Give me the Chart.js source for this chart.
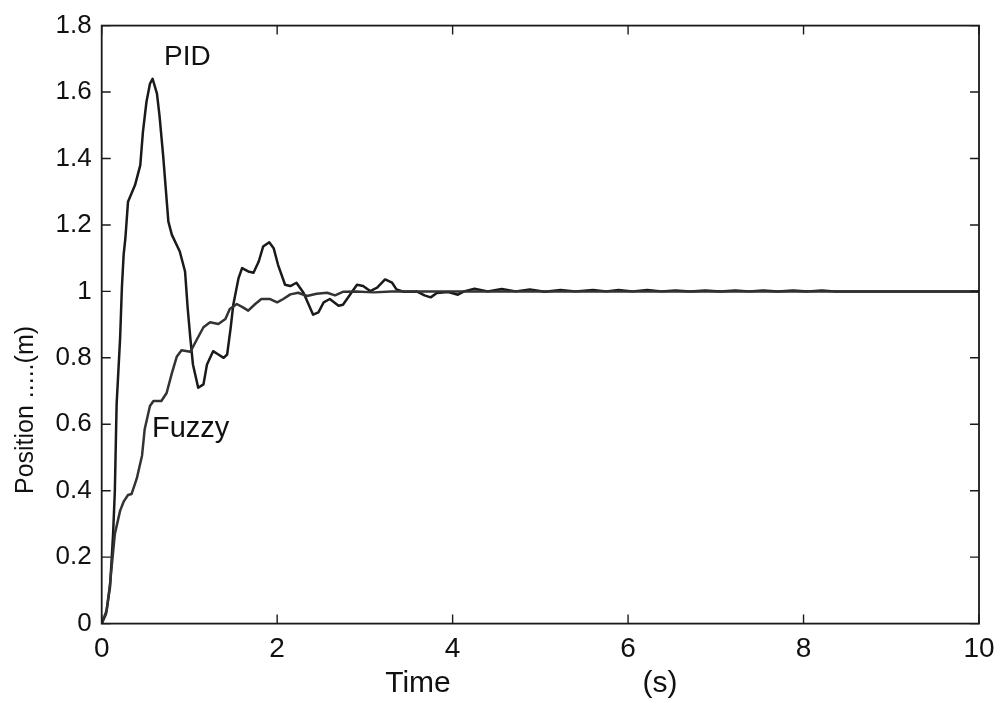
<!DOCTYPE html>
<html>
<head>
<meta charset="utf-8">
<script src="https://cdn.jsdelivr.net/npm/chart.js@4/dist/chart.umd.min.js"></script>
<style>
html,body{margin:0;padding:0;background:#fff;}
#c{display:block;}
</style>
</head>
<body>
<canvas id="c" width="1005" height="701"></canvas>
<script>
// ---- data ----
const pidT = [0,0.05,0.095,0.13,0.15,0.17,0.21,0.23,0.25,0.27,0.30,0.38,0.44,0.47,0.51,0.55,0.58,0.63,0.66,0.70,0.76,0.80,0.89,0.95,0.98,1.01,1.04,1.10,1.16,1.20,1.27,1.33,1.39,1.43,1.47,1.50,1.56,1.60,1.67,1.73,1.79,1.84,1.91,1.96,2.01,2.09,2.15,2.22,2.30,2.36,2.41,2.47,2.53,2.60,2.70,2.75,2.83,2.91,2.98,3.06,3.14,3.23,3.31,3.36,3.44,3.59,3.68,3.75,3.82,3.95,4.06,4.13,4.25,4.40,4.56,4.72,4.88,5.05,5.23,5.40,5.60,5.75,5.89,6.05,6.22,6.38,6.54,6.71,6.88,7.05,7.22,7.38,7.54,7.71,7.88,8.05,8.21,8.35,10];
const pidY = [0,0.03,0.11,0.27,0.40,0.66,0.86,1.01,1.11,1.16,1.27,1.32,1.38,1.48,1.57,1.625,1.64,1.595,1.526,1.41,1.21,1.17,1.12,1.06,0.95,0.86,0.78,0.71,0.72,0.78,0.82,0.81,0.80,0.81,0.89,0.96,1.04,1.07,1.06,1.056,1.09,1.135,1.148,1.13,1.08,1.02,1.016,1.026,0.996,0.96,0.93,0.937,0.967,0.977,0.957,0.96,0.99,1.02,1.016,1.001,1.011,1.036,1.026,1.006,0.999,1.0,0.988,0.982,0.995,0.998,0.99,1.0,1.008,1.0,1.007,1.0,1.006,0.999,1.004,1.0,1.004,1.0,1.004,1.0,1.004,1.0,1.003,1.0,1.003,1.0,1.003,1.0,1.003,1.0,1.003,1.0,1.003,1.0,1.0];
const fuzzyT = [0,0.057,0.095,0.15,0.21,0.25,0.30,0.34,0.40,0.46,0.49,0.55,0.59,0.68,0.74,0.80,0.855,0.91,1.01,1.08,1.16,1.235,1.33,1.41,1.46,1.54,1.61,1.67,1.75,1.82,1.92,2.0,2.07,2.15,2.24,2.34,2.45,2.57,2.66,2.755,2.9,3.1,3.3,10];
const fuzzyY = [0,0.04,0.12,0.27,0.34,0.367,0.387,0.39,0.437,0.506,0.585,0.655,0.67,0.67,0.694,0.754,0.803,0.823,0.818,0.853,0.892,0.907,0.902,0.917,0.947,0.962,0.952,0.942,0.962,0.977,0.977,0.967,0.977,0.991,0.996,0.986,0.993,0.996,0.988,0.999,1.0,0.997,1.0,1.0];
const xTickValues = [0,2,4,6,8,10];
const xTickLabels = ['0','2','4','6','8','10'];
const yTickValues = [0,0.2,0.4,0.6,0.8,1,1.2,1.4,1.6,1.8];
const yTickLabels = ['0','0.2','0.4','0.6','0.8','1','1.2','1.4','1.6','1.8'];
const seriesNames = ['PID','Fuzzy'];
const xTitleParts = ['Time','(s)'];
const yTitle = 'Position .....(m)';

const INK = '#111';

const framePlugin = {
  id: 'frame',
  afterDraw(chart) {
    const ctx = chart.ctx, ca = chart.chartArea;
    const xs = chart.scales.x, ys = chart.scales.y;
    ctx.save();
    ctx.strokeStyle = '#1a1a1a';
    ctx.lineWidth = 1.8;
    ctx.strokeRect(ca.left, ca.top, ca.right - ca.left, ca.bottom - ca.top);
    const tl = 9;
    ctx.lineWidth = 1.4;
    ctx.beginPath();
    xTickValues.forEach(v => {
      const px = xs.getPixelForValue(v);
      ctx.moveTo(px, ca.bottom); ctx.lineTo(px, ca.bottom - tl);
      ctx.moveTo(px, ca.top); ctx.lineTo(px, ca.top + tl);
    });
    yTickValues.forEach(v => {
      const py = ys.getPixelForValue(v);
      ctx.moveTo(ca.left, py); ctx.lineTo(ca.left + tl, py);
      ctx.moveTo(ca.right, py); ctx.lineTo(ca.right - tl, py);
    });
    ctx.stroke();

    ctx.fillStyle = INK;
    ctx.textBaseline = 'alphabetic';
    ctx.textAlign = 'left';
    ctx.font = '28px "Liberation Sans", Arial, sans-serif';
    ctx.fillText(seriesNames[0], 164, 65);
    ctx.font = '29px "Liberation Sans", Arial, sans-serif';
    ctx.fillText(seriesNames[1], 152, 437);

    ctx.font = '30px "Liberation Sans", Arial, sans-serif';
    ctx.textAlign = 'center';
    ctx.fillText(xTitleParts[0], 418, 692);
    ctx.fillText(xTitleParts[1], 660, 692);

    ctx.translate(33, 410);
    ctx.rotate(-Math.PI / 2);
    ctx.font = '25px "Liberation Sans", Arial, sans-serif';
    ctx.fillText(yTitle, 0, 0);
    ctx.restore();
  }
};

new Chart(document.getElementById('c'), {
  type: 'line',
  data: {
    datasets: [
      {
        label: seriesNames[1],
        data: fuzzyT.map((t, i) => ({x: t, y: fuzzyY[i]})),
        borderColor: '#333333',
        borderWidth: 2.5,
        pointRadius: 0,
        tension: 0,
        fill: false,
        borderJoinStyle: 'round'
      },
      {
        label: seriesNames[0],
        data: pidT.map((t, i) => ({x: t, y: pidY[i]})),
        borderColor: '#1a1a1a',
        borderWidth: 2.5,
        pointRadius: 0,
        tension: 0,
        fill: false,
        borderJoinStyle: 'round'
      }
    ]
  },
  options: {
    responsive: false,
    devicePixelRatio: 1,
    animation: false,
    layout: { padding: { top: 19, right: 26, left: 0, bottom: 0 } },
    plugins: { legend: { display: false }, tooltip: { enabled: false } },
    scales: {
      x: {
        type: 'linear', min: 0, max: 10,
        afterBuildTicks: s => { s.ticks = xTickValues.map(v => ({value: v})); },
        ticks: {
          callback: (v, i) => xTickLabels[i],
          color: INK, padding: 9, maxRotation: 0,
          font: { family: '"Liberation Sans", Arial, sans-serif', size: 28 }
        },
        grid: { display: false, drawTicks: false },
        border: { display: false },
        afterFit: s => { s.height = 77.4; }
      },
      y: {
        type: 'linear', min: 0, max: 1.8,
        afterBuildTicks: s => { s.ticks = yTickValues.map(v => ({value: v})); },
        ticks: {
          callback: (v, i) => yTickLabels[i],
          color: INK, padding: 10,
          font: { family: '"Liberation Sans", Arial, sans-serif', size: 26 }
        },
        grid: { display: false, drawTicks: false },
        border: { display: false },
        afterFit: s => { s.width = 101.7; }
      }
    }
  },
  plugins: [framePlugin]
});
</script>
</body>
</html>
